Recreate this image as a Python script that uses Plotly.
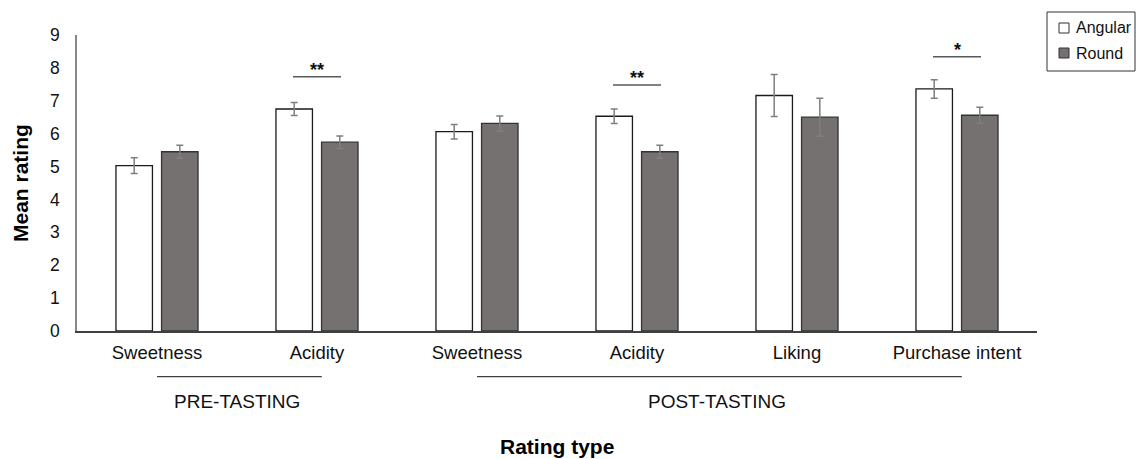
import plotly.graph_objects as go

# ---- data ----
categories = ["Sweetness", "Acidity", "Sweetness", "Acidity", "Liking", "Purchase intent"]
angular = [5.03, 6.75, 6.06, 6.53, 7.16, 7.36]
angular_err = [0.24, 0.20, 0.22, 0.22, 0.64, 0.28]
round_vals = [5.45, 5.74, 6.31, 5.45, 6.50, 6.56]
round_err = [0.20, 0.19, 0.23, 0.20, 0.58, 0.24]
series_names = ["Angular", "Round"]

sig_pos = [1, 3, 5]
sig_y = [7.73, 7.48, 8.34]
sig_label = ["**", "**", "*"]

groups = ["PRE-TASTING", "POST-TASTING"]
group_start = [0, 2]
group_end = [1, 5]

y_ticks = list(range(0, 10))

# ---- geometry helpers ----
W, H = 1136, 459
ML, MR, MT, MB = 77, 99, 35, 128
PW, PH = W - ML - MR, H - MT - MB


def px_x(px):
    return (px - ML) / PW


def px_y(py):
    return (H - MB - py) / PH


FONT = "Liberation Sans, Arial, sans-serif"
x = list(range(len(categories)))

fig = go.Figure()
fig.add_trace(go.Bar(
    x=x, y=angular, name=series_names[0],
    marker=dict(color="#ffffff", line=dict(color="#1a1a1a", width=1.3)),
    error_y=dict(type="data", array=angular_err, visible=True,
                 color="#7f7f7f", thickness=1.5, width=3.5),
    showlegend=False,
))
fig.add_trace(go.Bar(
    x=x, y=round_vals, name=series_names[1],
    marker=dict(color="#767171", line=dict(color="#333333", width=1.3)),
    error_y=dict(type="data", array=round_err, visible=True,
                 color="#7f7f7f", thickness=1.5, width=3.5),
    showlegend=False,
))

shapes = []
annotations = []

# significance lines and stars
for p, yv, lab in zip(sig_pos, sig_y, sig_label):
    shapes.append(dict(type="line", xref="x", yref="y", x0=p - 0.15, x1=p + 0.15,
                       y0=yv, y1=yv, line=dict(color="#595959", width=1.5)))
    annotations.append(dict(x=p, y=yv, xref="x", yref="y", text="<b>%s</b>" % lab,
                            showarrow=False, yanchor="middle", yshift=7,
                            font=dict(family=FONT, size=18, color="#111111")))

# group brackets below the axis
for g, s, e in zip(groups, group_start, group_end):
    shapes.append(dict(type="line", xref="x", yref="paper", x0=s, x1=e + 0.03,
                       y0=px_y(376.7), y1=px_y(376.7),
                       line=dict(color="#404040", width=1.2)))
    annotations.append(dict(x=(s + e) / 2, y=px_y(401), xref="x", yref="paper",
                            text=g, showarrow=False, yanchor="middle",
                            font=dict(family=FONT, size=19, color="#111111")))

# axis titles
annotations.append(dict(x=px_x(557), y=px_y(446), xref="paper", yref="paper",
                        text="<b>Rating type</b>", showarrow=False, yanchor="middle",
                        font=dict(family=FONT, size=21, color="#000000")))
annotations.append(dict(x=px_x(20), y=px_y(183), xref="paper", yref="paper",
                        text="<b>Mean rating</b>", showarrow=False, textangle=-90,
                        xanchor="center", yanchor="middle",
                        font=dict(family=FONT, size=21, color="#000000")))

# manual legend
shapes.append(dict(type="rect", xref="paper", yref="paper",
                   x0=px_x(1047), x1=px_x(1135), y0=px_y(71), y1=px_y(12),
                   line=dict(color="#333333", width=1), fillcolor="#ffffff"))
leg_colors = ["#ffffff", "#767171"]
leg_y = [28, 53]
for name, col, ly in zip(series_names, leg_colors, leg_y):
    shapes.append(dict(type="rect", xref="paper", yref="paper",
                       x0=px_x(1059), x1=px_x(1069), y0=px_y(ly + 5), y1=px_y(ly - 5),
                       line=dict(color="#333333", width=1), fillcolor=col))
    annotations.append(dict(x=px_x(1074), y=px_y(ly), xref="paper", yref="paper",
                            text=name, showarrow=False, xanchor="left", yanchor="middle",
                            font=dict(family=FONT, size=16, color="#111111")))

fig.update_layout(
    width=W, height=H, autosize=False,
    margin=dict(l=ML, r=MR, t=MT, b=MB, pad=0),
    paper_bgcolor="#ffffff", plot_bgcolor="#ffffff",
    barmode="group", bargap=0.43, bargroupgap=0.2,
    shapes=shapes, annotations=annotations,
    font=dict(family=FONT, color="#111111"),
    xaxis=dict(range=[-0.5, len(categories) - 0.5], tickmode="array",
               tickvals=x, ticktext=categories, showgrid=False, zeroline=False,
               showline=True, linecolor="#404040", linewidth=1.5, ticks="",
               ticklabelstandoff=4,
               tickfont=dict(family=FONT, size=18.5, color="#111111")),
    yaxis=dict(range=[0, 9], tickmode="array", tickvals=y_ticks, showgrid=False,
               zeroline=False, showline=True, linecolor="#888888", linewidth=1.5,
               ticks="", ticklabelstandoff=12,
               tickfont=dict(family=FONT, size=17.5, color="#111111")),
)

fig.write_html("out.html")
